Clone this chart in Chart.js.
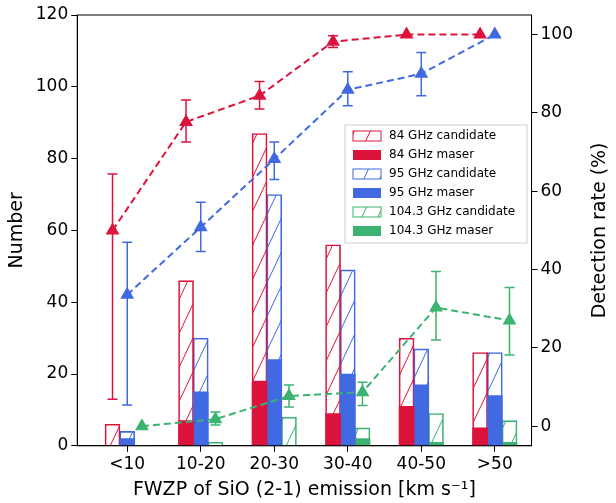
<!DOCTYPE html>
<html><head><meta charset="utf-8">
<script src="https://cdn.jsdelivr.net/npm/chart.js@4/dist/chart.umd.min.js"></script>
<style>body{margin:0;background:#fff}#wrap{width:616px;height:503px}</style>
</head><body><div id="wrap"><canvas id="c"></canvas></div>
<script>
var categories = ['<10', '10-20', '20-30', '30-40', '40-50', '>50'];
var cand84 = [6, 46, 87, 56, 30, 26];
var maser84 = [0, 7, 18, 9, 11, 5];
var cand95 = [4, 30, 70, 49, 27, 26];
var maser95 = [2, 15, 24, 20, 17, 14];
var cand104 = [0, 1, 8, 5, 9, 7];
var maser104 = [0, 0, 0, 2, 1, 1];
var rate84 = [50, 77.7, 84.4, 98.2, 100, 100];
var rate84Hi = [64.4, 83.3, 88, 99.7, 100, 100];
var rate84Lo = [6.9, 72.6, 81, 96.7, 99.6, 99.6];
var rate95 = [33.6, 50.8, 68.2, 85.9, 90, 100];
var rate95Hi = [47, 57.2, 72.6, 90.5, 95.4, 100];
var rate95Lo = [5.4, 44.6, 63, 81.8, 84.4, 99.6];
var rate104 = [0, 1.8, 7.7, 8.7, 30.3, 27];
var rate104Hi = [0, 3.6, 10.5, 11.2, 39.5, 35.4];
var rate104Lo = [0, 0.3, 4.9, 5.3, 22, 18.2];
var rightTicks = [0, 20, 40, 60, 80, 100];

var RED = '#dc143c', BLUE = '#4169e1', GREEN = '#3cb371';
var OFF = { r: -0.2, b: 0, g: 0.2 };

function hatch(color) {
    var c = document.createElement('canvas');
    c.width = 16; c.height = 34;
    var x = c.getContext('2d');
    x.strokeStyle = color; x.lineWidth = 1;
    x.beginPath();
    x.moveTo(0, 34); x.lineTo(16, 0);
    x.moveTo(-16, 34); x.lineTo(0, 0);
    x.moveTo(16, 34); x.lineTo(32, 0);
    x.stroke();
    return x.createPattern(c, 'repeat');
}

function pts(arr, off) {
    return arr.map(function (v, i) { return { x: i + off, y: v }; });
}
function barSet(label, arr, off, color, hatched) {
    return {
        type: 'bar', label: label, data: pts(arr, off), grouped: false,
        barThickness: 15, order: hatched ? 3 : 2, yAxisID: 'y',
        backgroundColor: hatched ? hatch(color) : color,
        borderColor: color, borderWidth: hatched ? 1 : 0
    };
}
function lineSet(arr, off, color) {
    return {
        type: 'line', data: pts(arr, off), yAxisID: 'y2', order: 0,
        borderColor: color, backgroundColor: color, borderWidth: 2,
        borderDash: [7, 4], pointStyle: 'triangle', pointRadius: 6, fill: false
    };
}

var errs = [
    [rate84Hi, rate84Lo, OFF.r, RED],
    [rate95Hi, rate95Lo, OFF.b, BLUE],
    [rate104Hi, rate104Lo, OFF.g, GREEN]
];

var extras = {
    id: 'extras',
    afterDatasetsDraw: function (chart) {
        var ctx = chart.ctx, xs = chart.scales.x, ys = chart.scales.y2;
        ctx.save();
        ctx.lineWidth = 1.5;
        errs.forEach(function (e) {
            ctx.strokeStyle = e[3];
            e[0].forEach(function (hi, i) {
                var lo = e[1][i];
                if (hi - lo < 0.5) return;
                var px = xs.getPixelForValue(i + e[2]);
                var y1 = ys.getPixelForValue(hi), y2 = ys.getPixelForValue(lo);
                ctx.beginPath();
                ctx.moveTo(px, y1); ctx.lineTo(px, y2);
                ctx.moveTo(px - 5, y1); ctx.lineTo(px + 5, y1);
                ctx.moveTo(px - 5, y2); ctx.lineTo(px + 5, y2);
                ctx.stroke();
            });
        });
        var a = chart.chartArea;
        ctx.strokeStyle = '#000'; ctx.lineWidth = 1;
        ctx.strokeRect(a.left, a.top, a.right - a.left, a.bottom - a.top);
        // right axis title, read bottom-to-top
        ctx.save();
        ctx.translate(600, (a.top + a.bottom) / 2);
        ctx.rotate(-Math.PI / 2);
        ctx.font = '19px "DejaVu Sans"';
        ctx.fillStyle = '#000';
        ctx.textAlign = 'center'; ctx.textBaseline = 'middle';
        ctx.fillText('Detection rate (%)', 0, 0);
        ctx.restore();
        // legend
        var items = [
            ['84 GHz candidate', RED, true], ['84 GHz maser', RED, false],
            ['95 GHz candidate', BLUE, true], ['95 GHz maser', BLUE, false],
            ['104.3 GHz candidate', GREEN, true], ['104.3 GHz maser', GREEN, false]
        ];
        var lx = 345, ly = 125;
        ctx.fillStyle = 'rgba(255,255,255,0.85)';
        ctx.strokeStyle = '#ccc';
        ctx.fillRect(lx, ly, 182, 118);
        ctx.strokeRect(lx, ly, 182, 118);
        ctx.font = '12px "DejaVu Sans"';
        ctx.textBaseline = 'middle';
        items.forEach(function (it, k) {
            var y = ly + 11 + k * 19;
            ctx.fillStyle = it[2] ? hatch(it[1]) : it[1];
            ctx.fillRect(lx + 8, y - 5, 28, 10);
            if (it[2]) { ctx.strokeStyle = it[1]; ctx.strokeRect(lx + 8, y - 5, 28, 10); }
            ctx.fillStyle = '#000';
            ctx.fillText(it[0], lx + 44, y);
        });
        ctx.restore();
    }
};

var tickFont = { family: 'DejaVu Sans', size: 17 };
var titleFont = { family: 'DejaVu Sans', size: 19 };
function gridOpts() { return { drawOnChartArea: false, drawTicks: true, tickLength: 6, color: '#000', offset: false }; }

new Chart(document.getElementById('c'), {
    data: {
        datasets: [
            barSet('84 GHz candidate', cand84, OFF.r, RED, true),
            barSet('84 GHz maser', maser84, OFF.r, RED, false),
            barSet('95 GHz candidate', cand95, OFF.b, BLUE, true),
            barSet('95 GHz maser', maser95, OFF.b, BLUE, false),
            barSet('104.3 GHz candidate', cand104, OFF.g, GREEN, true),
            barSet('104.3 GHz maser', maser104, OFF.g, GREEN, false),
            lineSet(rate84, OFF.r, RED),
            lineSet(rate95, OFF.b, BLUE),
            lineSet(rate104, OFF.g, GREEN)
        ]
    },
    options: {
        responsive: true, maintainAspectRatio: false, animation: false,
        layout: { padding: { top: 15, right: 40, left: 2, bottom: 2 } },
        plugins: { legend: { display: false }, tooltip: { enabled: false } },
        scales: {
            x: {
                type: 'linear', min: -0.68, max: 5.5, offset: false,
                afterBuildTicks: function (s) { s.ticks = categories.map(function (c, i) { return { value: i }; }); },
                ticks: { font: tickFont, color: '#000', callback: function (v) { return categories[v]; } },
                grid: gridOpts(), border: { color: '#000' },
                title: { display: true, text: 'FWZP of SiO (2-1) emission [km s\u207B\u00B9]', font: titleFont, color: '#000', padding: 0 }
            },
            y: {
                min: 0, max: 120, position: 'left',
                ticks: { stepSize: 20, font: tickFont, color: '#000' },
                grid: gridOpts(), border: { color: '#000' },
                title: { display: true, text: 'Number', font: titleFont, color: '#000' }
            },
            y2: {
                min: -5, max: 105, position: 'right',
                afterBuildTicks: function (s) { s.ticks = rightTicks.map(function (v) { return { value: v }; }); },
                ticks: { font: tickFont, color: '#000' },
                grid: gridOpts(), border: { color: '#000' }
            }
        }
    },
    plugins: [extras]
});
</script></body></html>
